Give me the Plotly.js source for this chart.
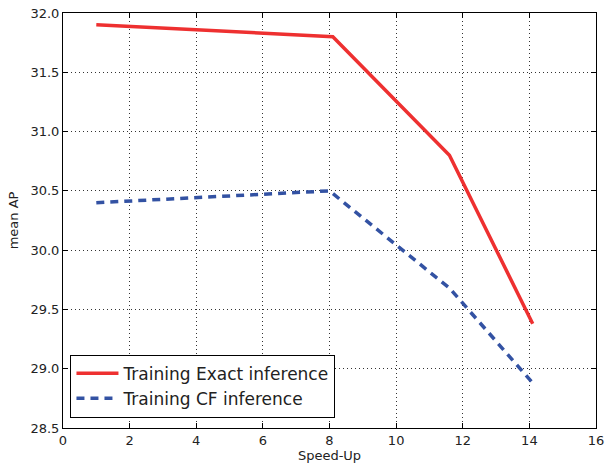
<!DOCTYPE html>
<html>
<head>
<meta charset="utf-8">
<script src="https://cdn.plot.ly/plotly-3.0.1.min.js"></script>
<style>html,body{margin:0;padding:0;background:#fff;}</style>
</head>
<body>
<div id="chart" style="width:607px;height:463px;"></div>
<script>
const exactX = [1.0, 8.1, 11.6, 14.1];
const exactY = [31.9, 31.8, 30.8, 29.38];
const cfX = [1.0, 8.0, 11.6, 14.1];
const cfY = [30.4, 30.5, 29.68, 28.88];
const xTicks = [0, 2, 4, 6, 8, 10, 12, 14, 16];
const yTicks = [28.5, 29.0, 29.5, 30.0, 30.5, 31.0, 31.5, 32.0];

const font = "DejaVu Sans, sans-serif";
const traces = [
  {x: exactX, y: exactY, mode: 'lines', name: 'Training Exact inference',
   line: {color: '#ee3030', width: 3.5}},
  {x: cfX, y: cfY, mode: 'lines', name: 'Training CF inference',
   line: {color: '#3352a3', width: 3.5, dash: '8px,6px'}}
];
const axisCommon = {
  showline: true, linecolor: '#000', linewidth: 1, mirror: 'ticks',
  ticks: 'inside', ticklen: 5, tickcolor: '#000',
  showgrid: true, gridcolor: '#333', griddash: '1px,3px', gridwidth: 1,
  zeroline: false, tickfont: {family: font, size: 13, color: '#222'}
};
const layout = {
  width: 607, height: 463,
  margin: {l: 63, r: 11, t: 13, b: 35},
  paper_bgcolor: '#fff', plot_bgcolor: '#fff',
  showlegend: true,
  legend: {x: 0.014, y: 0.025, xanchor: 'left', yanchor: 'bottom',
    bordercolor: '#000', borderwidth: 1, bgcolor: '#fff', itemwidth: 42,
    font: {family: font, size: 17, color: '#222'}, tracegroupgap: 0},
  xaxis: Object.assign({}, axisCommon, {
    range: [0, 16], tickvals: xTicks, ticktext: xTicks.map(String),
    title: {text: 'Speed-Up', font: {family: font, size: 13, color: '#222'}, standoff: 2}
  }),
  yaxis: Object.assign({}, axisCommon, {
    range: [28.5, 32.0], tickvals: yTicks, ticktext: yTicks.map(v => v.toFixed(1)),
    title: {text: 'mean AP', font: {family: font, size: 13, color: '#222'}, standoff: 8}
  })
};
Plotly.newPlot('chart', traces, layout, {staticPlot: true});
</script>
</body>
</html>
